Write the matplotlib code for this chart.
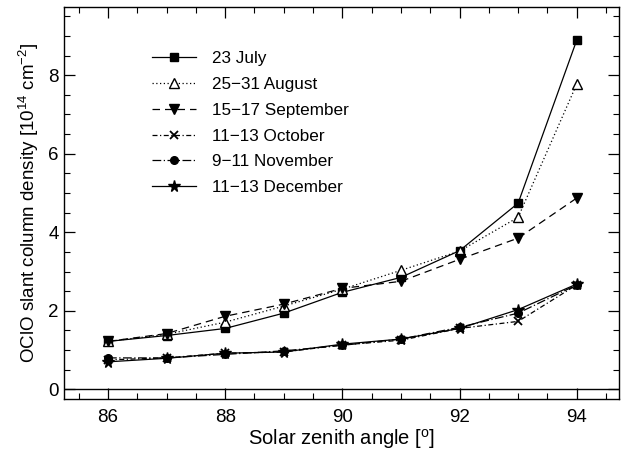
import numpy as np
import matplotlib
matplotlib.use('Agg')
import matplotlib.pyplot as plt
from matplotlib.ticker import MultipleLocator

plt.rcParams['font.family'] = ['Liberation Sans', 'DejaVu Sans']
plt.rcParams['mathtext.fontset'] = 'custom'
plt.rcParams['mathtext.rm'] = 'Liberation Sans'

# solar zenith angle
sza = [86, 87, 88, 89, 90, 91, 92, 93, 94]

# OClO slant column density, 1e14 cm^-2
july = [1.22, 1.37, 1.55, 1.94, 2.47, 2.85, 3.53, 4.74, 8.89]
august = [1.22, 1.40, 1.71, 2.12, 2.55, 3.03, 3.52, 4.38, 7.77]
september = [1.22, 1.42, 1.86, 2.17, 2.57, 2.75, 3.31, 3.85, 4.87]
october = [0.75, 0.80, 0.92, 0.95, 1.13, 1.25, 1.55, 1.73, 2.66]
november = [0.80, 0.80, 0.89, 0.98, 1.12, 1.28, 1.58, 1.94, 2.66]
december = [0.70, 0.79, 0.92, 0.95, 1.15, 1.28, 1.55, 2.03, 2.68]

labels = ['23 July', '25\u221231 August', '15\u221217 September',
          '11\u221213 October', '9\u221211 November', '11\u221213 December']

fig = plt.figure(figsize=(6.22, 4.51), dpi=100)
ax = fig.add_axes([0.103, 0.115, 0.892, 0.869])

lw = 0.9
ax.plot(sza, july, color='k', lw=lw, ls='-', marker='s', ms=5.5, label=labels[0])
ax.plot(sza, august, color='k', lw=lw, ls=(0, (1, 2)), marker='^', ms=6.5,
        mfc='white', mec='k', label=labels[1])
ax.plot(sza, september, color='k', lw=lw, ls=(0, (6, 4)), marker='v', ms=6.5, label=labels[2])
ax.plot(sza, october, color='k', lw=lw, ls=(0, (4, 2, 1, 2)), marker='x', ms=5.5,
        mew=1.3, label=labels[3])
ax.plot(sza, november, color='k', lw=lw, ls=(0, (7, 2, 1, 2)), marker='o', ms=5.5, label=labels[4])
ax.plot(sza, december, color='k', lw=lw, ls='-', marker='*', ms=8.5, label=labels[5])

ax.axhline(0, color='k', lw=1)

ax.set_xlim(85.25, 94.72)
ax.set_ylim(-0.25, 9.73)
ax.xaxis.set_major_locator(MultipleLocator(2))
ax.xaxis.set_minor_locator(MultipleLocator(0.5))
ax.yaxis.set_major_locator(MultipleLocator(2))
ax.yaxis.set_minor_locator(MultipleLocator(0.5))
ax.tick_params(which='both', direction='in', top=True, right=True, labelsize=13.5)
ax.tick_params(which='major', length=8, width=0.9)
ax.tick_params(which='minor', length=4, width=0.8)
ax.tick_params(axis='x', pad=7)
ax.tick_params(axis='y', pad=4)
for s in ax.spines.values():
    s.set_linewidth(1)

ax.set_xlabel(r'Solar zenith angle [$^{\mathrm{o}}$]', fontsize=14.5, labelpad=1)
ax.set_ylabel(r'OClO slant column density [10$^{14}$ cm$^{-2}$]', fontsize=13.5, labelpad=5)

ax.legend(loc='upper left', bbox_to_anchor=(0.158, 0.889), frameon=False,
          fontsize=12.3, handlelength=2.6, labelspacing=0.64, handletextpad=0.9,
          borderpad=0, borderaxespad=0)

fig.savefig('out.png', dpi=100)
